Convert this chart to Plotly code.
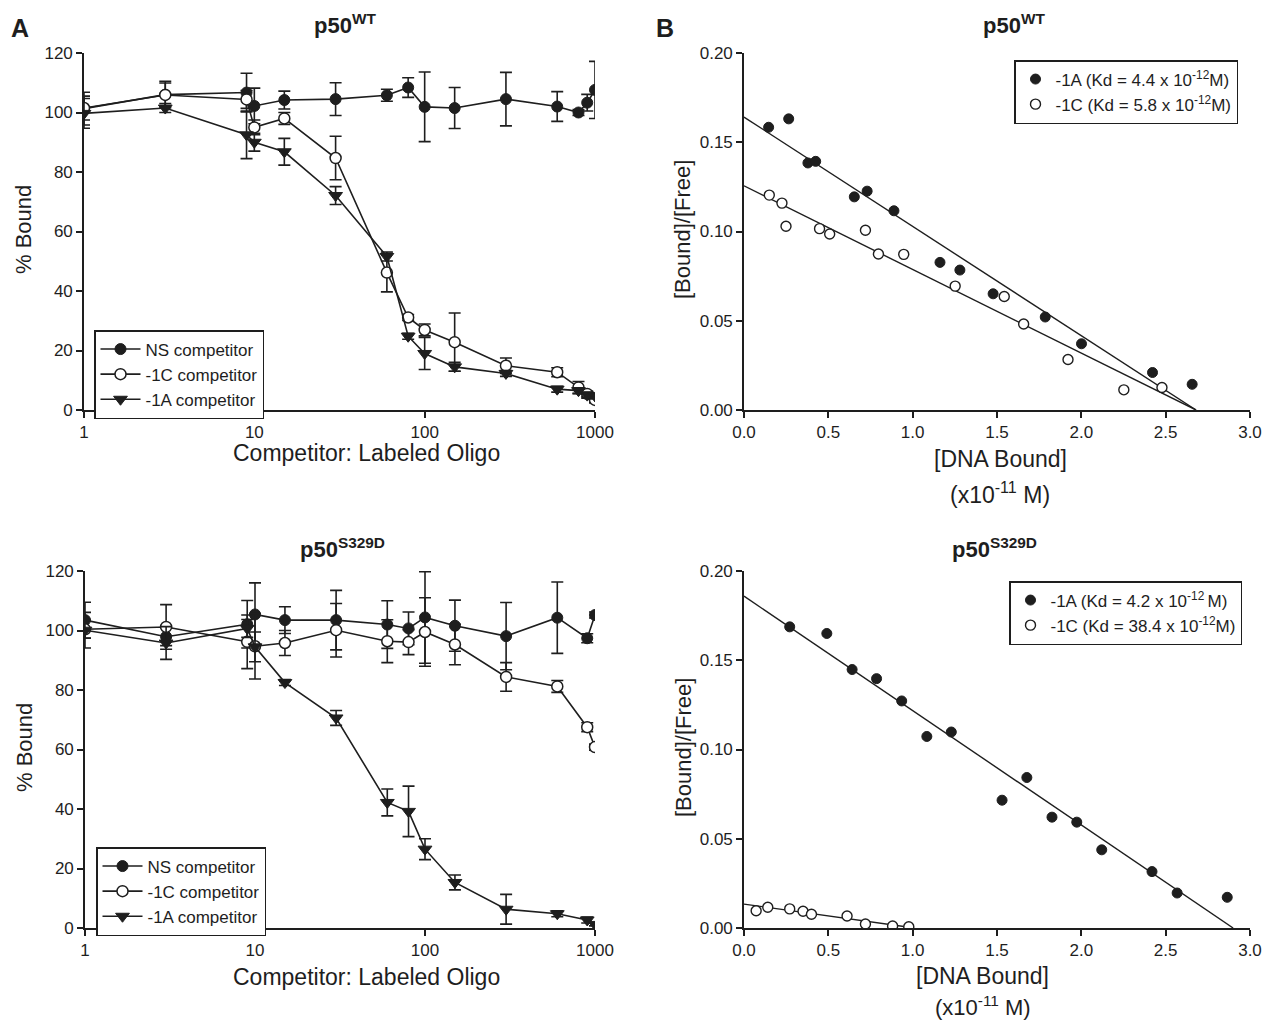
import plotly.graph_objects as go

# page body keeps an 8 px margin, so the figure is 16 px smaller than the window
OFF = 8
FW, FH = 1275 - 2 * OFF, 1031 - 2 * OFF
FONT = "Liberation Sans"
INK = "#1e1e1e"


def px(x):
    return (x - OFF) / FW


def py(y):
    return 1 - (y - OFF) / FH


# ---------------- Panel A : competition assays ----------------
conc_wt = [1, 3, 9, 10, 15, 30, 60, 80, 100, 150, 300, 600, 800, 900, 1000]
ns_wt = [101.3, 106.0, 106.7, 102.2, 104.2, 104.5, 105.8, 108.4, 101.9, 101.5, 104.5, 102.0, 100.0, 103.3, 107.6]
ns_wt_err = [5.5, 4.5, 6.5, 6.0, 3.0, 5.5, 2.0, 3.3, 11.7, 6.9, 9.0, 5.0, 1.0, 2.8, 9.6]
c1_wt = [101.5, 105.9, 104.4, 95.0, 98.0, 84.7, 46.2, 31.1, 26.9, 22.8, 14.9, 12.7, 7.6, 5.4, 3.4]
c1_wt_err = [4.0, 4.0, 3.0, 2.5, 2.0, 7.3, 6.5, 1.0, 2.0, 9.8, 2.6, 1.5, 2.0, 1.0, 1.0]
a1_wt = [99.7, 101.5, 92.5, 90.0, 86.8, 72.1, 51.6, 24.8, 19.0, 14.5, 12.3, 7.0, 6.5, 5.0, 4.7]
a1_wt_err = [5.0, 1.5, 8.0, 3.0, 4.5, 3.0, 1.5, 1.0, 5.4, 1.5, 1.0, 1.0, 1.0, 1.0, 1.0]

conc_mut = [1, 3, 9, 10, 15, 30, 60, 80, 100, 150, 300, 600, 900, 1000]
ns_mut = [103.5, 97.9, 102.1, 105.4, 103.5, 103.5, 102.0, 100.7, 104.4, 101.6, 98.1, 104.3, 97.4, 105.2]
ns_mut_err = [6.0, 3.0, 8.0, 10.6, 4.5, 10.0, 8.0, 5.5, 15.4, 8.6, 11.3, 12.0, 1.5, 1.0]
c1_mut = [100.4, 101.2, 96.2, 94.7, 95.8, 100.1, 96.4, 96.1, 99.5, 95.3, 84.4, 81.2, 67.5, 60.8]
c1_mut_err = [3.0, 7.5, 9.0, 11.0, 4.2, 9.0, 7.2, 4.2, 11.5, 6.8, 4.8, 2.0, 1.5, 1.0]
a1_mut = [100.1, 95.8, 100.7, 94.5, 82.5, 70.6, 42.2, 39.2, 26.5, 15.3, 6.3, 4.8, 2.7, 1.2]
a1_mut_err = [6.0, 5.5, 3.0, 5.0, 1.0, 2.5, 4.5, 8.5, 3.5, 2.5, 5.0, 1.0, 1.0, 0.5]

comp_names = ["NS competitor", "-1C competitor", "-1A competitor"]
y_ticks_pct = [0, 20, 40, 60, 80, 100, 120]
x_ticks_conc = [1, 10, 100, 1000]

# ---------------- Panel B : Scatchard plots ----------------
wt_1a_x = [0.146, 0.265, 0.379, 0.425, 0.654, 0.730, 0.889, 1.162, 1.280, 1.477, 1.786, 2.001, 2.422, 2.657]
wt_1a_y = [0.1584, 0.1631, 0.1384, 0.1393, 0.1194, 0.1226, 0.1116, 0.0827, 0.0784, 0.0651, 0.0521, 0.0371, 0.0210, 0.0144]
wt_1c_x = [0.150, 0.225, 0.249, 0.448, 0.508, 0.720, 0.797, 0.947, 1.252, 1.543, 1.658, 1.921, 2.252, 2.478]
wt_1c_y = [0.1204, 0.1159, 0.1029, 0.1016, 0.0986, 0.1007, 0.0874, 0.0872, 0.0694, 0.0636, 0.0482, 0.0283, 0.0113, 0.0126]
wt_1a_fit_x = [0.0, 2.68]
wt_1a_fit_y = [0.1641, 0.0]
wt_1c_fit_x = [0.0, 2.68]
wt_1c_fit_y = [0.1256, 0.0]

mut_1a_x = [0.271, 0.491, 0.641, 0.786, 0.935, 1.084, 1.229, 1.530, 1.677, 1.826, 1.973, 2.121, 2.419, 2.568, 2.865]
mut_1a_y = [0.1687, 0.1650, 0.1448, 0.1397, 0.1272, 0.1073, 0.1098, 0.0716, 0.0843, 0.0621, 0.0593, 0.0438, 0.0316, 0.0196, 0.0172]
mut_1c_x = [0.072, 0.141, 0.271, 0.350, 0.400, 0.611, 0.720, 0.881, 0.977]
mut_1c_y = [0.0097, 0.0116, 0.0107, 0.0094, 0.0077, 0.0067, 0.0022, 0.0011, 0.0007]
mut_1a_fit_x = [0.0, 2.90]
mut_1a_fit_y = [0.1859, 0.0]
mut_1c_fit_x = [0.0, 0.98]
mut_1c_fit_y = [0.0134, 0.0004]

wt_legend = ["-1A (Kd = 4.4 x 10<sup>-12</sup>M)", "-1C (Kd = 5.8 x 10<sup>-12</sup>M)"]
mut_legend = ["-1A (Kd = 4.2 x 10<sup>-12 </sup>M)", "-1C (Kd = 38.4 x 10<sup>-12</sup>M)"]
x_ticks_dna = [0.0, 0.5, 1.0, 1.5, 2.0, 2.5, 3.0]
y_ticks_bf = [0.00, 0.05, 0.10, 0.15, 0.20]

fig = go.Figure()

filled = dict(symbol="circle", size=11, color=INK, line=dict(color=INK, width=1))
openc = dict(symbol="circle", size=11, color="white", line=dict(color=INK, width=1.5))
tri = dict(symbol="triangle-down", size=12, color=INK, line=dict(color=INK, width=1))


def err(arr):
    return dict(type="data", array=arr, visible=True, color=INK, thickness=1.6, width=6)


def comp_traces(xs, series, errs, xa, ya, legend):
    for name, ys, es, mk in zip(comp_names, series, errs, [filled, openc, tri]):
        fig.add_trace(go.Scatter(
            x=xs, y=ys, error_y=err(es), mode="lines+markers", name=name,
            line=dict(color=INK, width=1.6), marker=mk,
            xaxis=xa, yaxis=ya, legend=legend))


comp_traces(conc_wt, [ns_wt, c1_wt, a1_wt], [ns_wt_err, c1_wt_err, a1_wt_err], "x", "y", "legend")
comp_traces(conc_mut, [ns_mut, c1_mut, a1_mut], [ns_mut_err, c1_mut_err, a1_mut_err], "x3", "y3", "legend2")


def scat_traces(ax, ay, cx, cy, fax, fay, fcx, fcy, names, xa, ya, legend):
    fig.add_trace(go.Scatter(x=fax, y=fay, mode="lines", line=dict(color=INK, width=1.4),
                             showlegend=False, xaxis=xa, yaxis=ya, hoverinfo="skip"))
    fig.add_trace(go.Scatter(x=fcx, y=fcy, mode="lines", line=dict(color=INK, width=1.4),
                             showlegend=False, xaxis=xa, yaxis=ya, hoverinfo="skip"))
    fig.add_trace(go.Scatter(x=ax, y=ay, mode="markers", name=names[0],
                             marker=dict(symbol="circle", size=10, color=INK, line=dict(color=INK, width=1)),
                             xaxis=xa, yaxis=ya, legend=legend))
    fig.add_trace(go.Scatter(x=cx, y=cy, mode="markers", name=names[1],
                             marker=dict(symbol="circle", size=10, color="white", line=dict(color=INK, width=1.4)),
                             xaxis=xa, yaxis=ya, legend=legend))


scat_traces(wt_1a_x, wt_1a_y, wt_1c_x, wt_1c_y, wt_1a_fit_x, wt_1a_fit_y, wt_1c_fit_x, wt_1c_fit_y,
            wt_legend, "x2", "y2", "legend3")
scat_traces(mut_1a_x, mut_1a_y, mut_1c_x, mut_1c_y, mut_1a_fit_x, mut_1a_fit_y, mut_1c_fit_x, mut_1c_fit_y,
            mut_legend, "x4", "y4", "legend4")

axis_common = dict(showline=True, linecolor=INK, linewidth=1.6, ticks="outside", ticklen=6,
                   tickwidth=1.6, tickcolor=INK, showgrid=False, zeroline=False, mirror=False,
                   automargin=False, tickfont=dict(family=FONT, size=17, color=INK))

top_y = [py(410), py(53)]
bot_y = [py(928), py(571)]

fig.update_layout(
    width=FW, height=FH, margin=dict(l=0, r=0, t=0, b=0, autoexpand=False),
    paper_bgcolor="white", plot_bgcolor="white",
    font=dict(family=FONT, color=INK),
    xaxis=dict(axis_common, type="log", range=[0, 3], tickvals=x_ticks_conc,
               domain=[px(84), px(595)], anchor="y"),
    yaxis=dict(axis_common, range=[0, 120], tickvals=y_ticks_pct, domain=top_y, anchor="x"),
    xaxis3=dict(axis_common, type="log", range=[0, 3], tickvals=x_ticks_conc,
                domain=[px(85), px(595)], anchor="y3"),
    yaxis3=dict(axis_common, range=[0, 120], tickvals=y_ticks_pct, domain=bot_y, anchor="x3"),
    xaxis2=dict(axis_common, range=[0, 3], tickvals=x_ticks_dna, tickformat=".1f",
                domain=[px(744), px(1250)], anchor="y2"),
    yaxis2=dict(axis_common, range=[0, 0.2], tickvals=y_ticks_bf, tickformat=".2f",
                domain=top_y, anchor="x2"),
    xaxis4=dict(axis_common, range=[0, 3], tickvals=x_ticks_dna, tickformat=".1f",
                domain=[px(744), px(1250)], anchor="y4"),
    yaxis4=dict(axis_common, range=[0, 0.2], tickvals=y_ticks_bf, tickformat=".2f",
                domain=bot_y, anchor="x4"),
)

leg_common = dict(bgcolor="white", bordercolor=INK, borderwidth=1.5,
                  font=dict(family=FONT, size=17, color=INK),
                  xanchor="left", yanchor="top", tracegroupgap=0, itemwidth=40)
fig.update_layout(
    legend=dict(leg_common, x=px(94), y=py(330)),
    legend2=dict(leg_common, x=px(96), y=py(847)),
    legend3=dict(leg_common, x=px(1238), y=py(60), xanchor="right", itemwidth=30),
    legend4=dict(leg_common, x=px(1242), y=py(581), xanchor="right", itemwidth=30),
)


def ann(text, x, y, size, bold=False, angle=0):
    fig.add_annotation(text=f"<b>{text}</b>" if bold else text, x=px(x), y=py(y),
                       xref="paper", yref="paper", showarrow=False, textangle=angle,
                       xanchor="center", yanchor="middle",
                       font=dict(family=FONT, size=size, color=INK))


ann("A", 20, 28, 25, bold=True)
ann("B", 665, 28, 25, bold=True)
ann("p50<sup>WT</sup>", 345, 24, 22, bold=True)
ann("p50<sup>WT</sup>", 1014, 24, 22, bold=True)
ann("p50<sup>S329D</sup>", 342, 548, 22, bold=True)
ann("p50<sup>S329D</sup>", 994, 548, 22, bold=True)
ann("% Bound", 24, 230, 22, angle=-90)
ann("% Bound", 24, 748, 22, angle=-90)
ann("[Bound]/[Free]", 683, 230, 22, angle=-90)
ann("[Bound]/[Free]", 683, 748, 22, angle=-90)
ann("Competitor: Labeled Oligo", 366, 453, 23)
ann("Competitor: Labeled Oligo", 366, 977, 23)
ann("[DNA Bound]", 1000, 459, 23)
ann("(x10<sup>-11</sup> M)", 1000, 493, 23)
ann("[DNA Bound]", 983, 976, 23)
ann("(x10<sup>-11</sup> M)", 983, 1006, 22)

fig.write_html("out.html")
